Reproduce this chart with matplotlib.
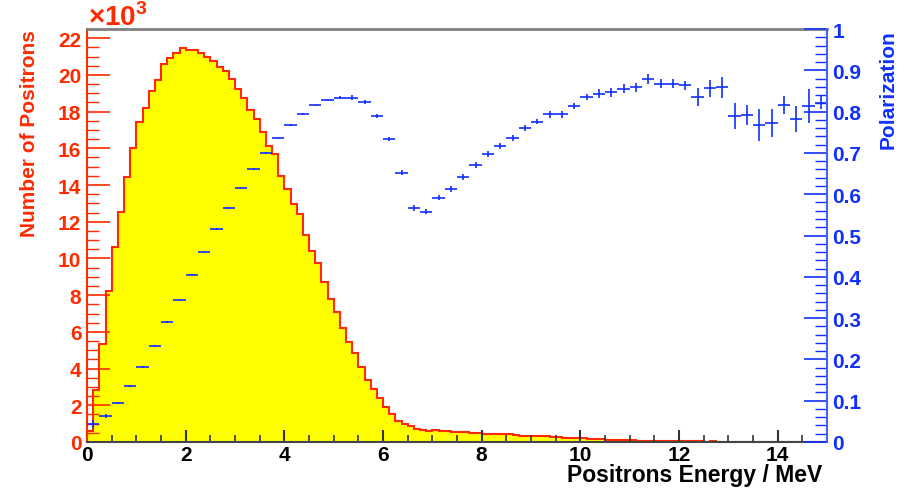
import numpy as np
import matplotlib
matplotlib.use('Agg')
import matplotlib.pyplot as plt
from matplotlib.ticker import MultipleLocator, FormatStrFormatter

## data
# positron spectrum, 120 bins of 0.125 MeV, in units of 10^3
bin_edges = np.linspace(0, 15, 121)
counts_k = [
	0.62, 2.85, 5.34, 8.2, 10.6, 12.55, 14.45, 16.0, 17.45, 18.17,
	19.1, 19.73, 20.57, 20.9, 21.19, 21.46, 21.35, 21.37, 21.19, 20.99,
	20.77, 20.42, 20.22, 19.75, 19.23, 18.75, 18.07, 17.59, 16.9, 16.1,
	15.67, 14.5, 13.76, 12.96, 12.4, 11.3, 10.38, 9.74, 8.73, 7.79,
	7.10, 6.21, 5.43, 4.85, 4.10, 3.36, 2.89, 2.38, 1.93, 1.51,
	1.12, 0.98, 0.85, 0.73, 0.67, 0.6, 0.65, 0.61, 0.6, 0.55,
	0.54, 0.54, 0.5, 0.49, 0.46, 0.45, 0.44, 0.42, 0.41, 0.36,
	0.35, 0.34, 0.31, 0.31, 0.3, 0.29, 0.27, 0.24, 0.23, 0.22,
	0.2, 0.19, 0.16, 0.15, 0.12, 0.12, 0.11, 0.11, 0.1, 0.08,
	0.07, 0.07, 0.06, 0.06, 0.05, 0.04, 0.04, 0.03, 0.03, 0.03,
	0.02, 0.03, 0, 0, 0, 0, 0, 0, 0, 0,
	0, 0, 0, 0, 0, 0, 0, 0, 0, 0,
]

# polarization, 60 bins of 0.25 MeV
pol_energy = np.arange(0.125, 15, 0.25)
pol_half_width = 0.125
polarization = [
	0.044, 0.062, 0.094, 0.136, 0.182, 0.233, 0.290, 0.345, 0.404, 0.461,
	0.515, 0.566, 0.616, 0.661, 0.700, 0.737, 0.768, 0.794, 0.815, 0.827,
	0.834, 0.834, 0.823, 0.790, 0.733, 0.652, 0.566, 0.558, 0.592, 0.612,
	0.642, 0.670, 0.698, 0.717, 0.736, 0.761, 0.776, 0.793, 0.793, 0.814,
	0.835, 0.843, 0.847, 0.855, 0.859, 0.879, 0.867, 0.867, 0.864, 0.835,
	0.856, 0.859, 0.790, 0.792, 0.768, 0.772, 0.816, 0.782, 0.814, 0.822,
]
pol_error = [
	0.010, 0.005, 0.002, 0.002, 0.002, 0.002, 0.002, 0.002, 0.002, 0.002,
	0.002, 0.002, 0.002, 0.002, 0.002, 0.002, 0.002, 0.002, 0.002, 0.002,
	0.003, 0.005, 0.005, 0.005, 0.005, 0.006, 0.007, 0.007, 0.007, 0.007,
	0.007, 0.007, 0.007, 0.007, 0.007, 0.007, 0.007, 0.008, 0.008, 0.008,
	0.008, 0.011, 0.011, 0.011, 0.011, 0.012, 0.011, 0.011, 0.011, 0.022,
	0.020, 0.025, 0.031, 0.025, 0.038, 0.034, 0.021, 0.032, 0.041, 0.016,
]

## style
RED = '#ff2a00'
BLUE = '#1030ff'
plt.rcParams['font.family'] = ['Liberation Sans', 'DejaVu Sans']
plt.rcParams['font.weight'] = 'bold'
plt.rcParams['mathtext.fontset'] = 'custom'
plt.rcParams['mathtext.bf'] = 'Liberation Sans:bold'
plt.rcParams['mathtext.rm'] = 'Liberation Sans:bold'

fig = plt.figure(figsize=(9.10, 4.89), dpi=100)
ax = fig.add_axes([87 / 910, 1 - 443 / 489, 740 / 910, 413 / 489])

## histogram
ax.stairs(counts_k, bin_edges, fill=True, facecolor='#ffff00', edgecolor='none', zorder=1)
ax.stairs(counts_k, bin_edges, baseline=None, color=RED, linewidth=1.5, zorder=1.5)
ax.set_xlim(0, 15)
ax.set_ylim(0, 22.5)

ax.xaxis.set_major_locator(MultipleLocator(2))
ax.xaxis.set_minor_locator(MultipleLocator(0.5))
ax.yaxis.set_major_locator(MultipleLocator(2))
ax.yaxis.set_minor_locator(MultipleLocator(0.5))
ax.xaxis.set_major_formatter(FormatStrFormatter('%d'))
ax.yaxis.set_major_formatter(FormatStrFormatter('%d'))
ax.tick_params(axis='x', which='major', direction='in', length=8.6, width=1.5,
	color='#333333', labelsize=15, pad=2, top=False)
ax.tick_params(axis='x', which='minor', direction='in', length=5, width=1.2,
	color='#333333', top=False)
ax.tick_params(axis='y', which='major', direction='in', length=16.5, width=1.2,
	color=RED, labelcolor=RED, labelsize=15, pad=4, right=False)
ax.tick_params(axis='y', which='minor', direction='in', length=8.6, width=1.0,
	color=RED, right=False)

ax.spines['left'].set_color(RED)
ax.spines['left'].set_linewidth(1.5)
ax.spines['bottom'].set_color('#444444')
ax.spines['bottom'].set_linewidth(1.5)
ax.spines['top'].set_color('#808080')
ax.spines['top'].set_linewidth(2)
ax.spines['right'].set_visible(False)

## polarization
ax2 = ax.twinx()
ax2.errorbar(pol_energy, polarization, xerr=pol_half_width, yerr=pol_error,
	fmt='none', ecolor=BLUE, elinewidth=1.2, capsize=0)
ax2.set_ylim(0, 1)
ax2.yaxis.set_major_locator(MultipleLocator(0.1))
ax2.yaxis.set_minor_locator(MultipleLocator(0.02))
ax2.yaxis.set_major_formatter(FormatStrFormatter('%g'))
ax2.tick_params(axis='y', which='major', direction='in', length=16.5, width=1.2,
	color=BLUE, labelcolor=BLUE, labelsize=15, pad=4)
ax2.tick_params(axis='y', which='minor', direction='in', length=8.6, width=1.0,
	color=BLUE)
for side in ['left', 'top', 'bottom']:
	ax2.spines[side].set_visible(False)
ax2.spines['right'].set_color('#4060ff')
ax2.spines['right'].set_linewidth(1.5)

## labels
fig.text(30 / 910, 1 - 30 / 489, 'Number of Positrons', rotation=90, ha='center',
	va='top', color=RED, fontsize=15, fontweight='bold')
fig.text(888 / 910, 1 - 30 / 489, 'Polarization', rotation=90, ha='center',
	va='top', color=BLUE, fontsize=15, fontweight='bold')
fig.text(822 / 910, 1 - 487 / 489, 'Positrons Energy / MeV', ha='right',
	va='bottom', color='black', fontsize=16.5, fontweight='bold')
fig.text(88 / 910, 1 - 26 / 489, '×10$^{\\mathbf{3}}$', ha='left', va='baseline',
	color=RED, fontsize=20)

fig.savefig('out.png', dpi=100)
